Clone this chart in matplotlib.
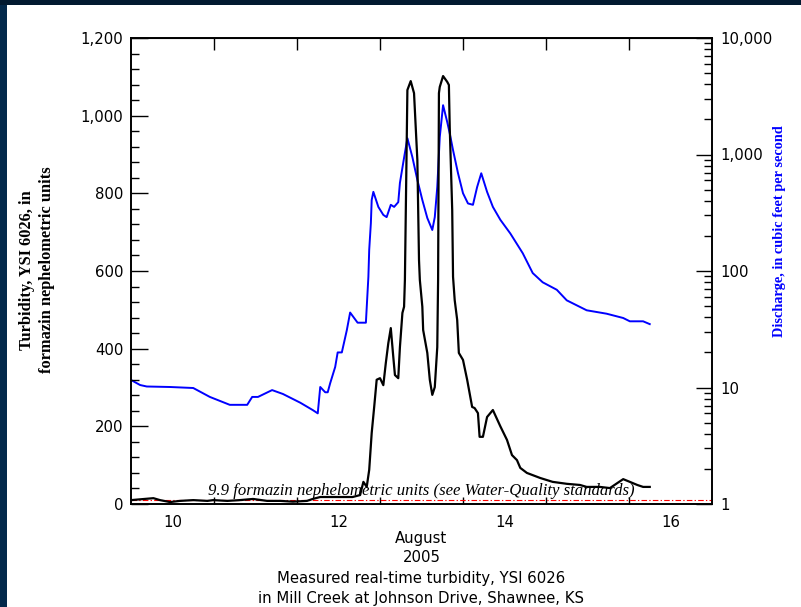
import matplotlib
matplotlib.use('Agg')
import matplotlib.pyplot as plt
from matplotlib.ticker import FixedLocator, FixedFormatter, LogLocator, NullFormatter, MultipleLocator
from matplotlib.patches import Rectangle
import matplotlib.transforms as mtransforms

# ---------------- data ----------------
q_days = [9.50, 9.61, 9.69, 9.97, 10.25, 10.45, 10.69, 10.90, 10.96, 11.03, 11.20, 11.33,
          11.54, 11.69, 11.75, 11.78, 11.84, 11.87, 11.90, 11.96, 11.99, 12.04, 12.10, 12.14,
          12.23, 12.33, 12.36, 12.37, 12.39, 12.40, 12.42, 12.48, 12.54, 12.58, 12.63, 12.67,
          12.72, 12.74, 12.78, 12.83, 12.89, 12.95, 13.01, 13.07, 13.13, 13.16, 13.19, 13.22,
          13.26, 13.31, 13.34, 13.38, 13.44, 13.50, 13.56, 13.62, 13.67, 13.72, 13.79, 13.86,
          13.95, 14.07, 14.22, 14.34, 14.46, 14.63, 14.75, 14.99, 15.23, 15.43, 15.51, 15.67,
          15.75]
discharge = [11.6, 10.5, 10.2, 10.1, 9.9, 8.3, 7.1, 7.1, 8.3, 8.3, 9.5, 8.8,
             7.4, 6.4, 6.0, 10.1, 9.1, 9.1, 10.9, 15, 20, 20, 31, 44,
             36, 36, 89, 152, 258, 407, 478, 355, 303, 290, 370, 355,
             390, 570, 850, 1380, 950, 605, 407, 285, 225, 290, 525, 1410,
             2650, 1900, 1520, 1090, 690, 465, 380, 370, 525, 690, 478, 355,
             275, 210, 142, 96, 80, 69, 56, 46, 43, 39.5, 37, 37,
             35]

t_days = [9.50, 9.77, 9.85, 9.97, 10.09, 10.25, 10.42, 10.49, 10.66, 10.81, 10.97, 11.14,
          11.30, 11.45, 11.62, 11.69, 11.78, 11.93, 12.17, 12.26, 12.30, 12.34, 12.37, 12.40,
          12.43, 12.46, 12.50, 12.54, 12.57, 12.60, 12.63, 12.66, 12.68, 12.72, 12.74, 12.77,
          12.79, 12.80, 12.83, 12.87, 12.91, 12.95, 12.97, 12.98, 13.01, 13.02, 13.07, 13.10,
          13.13, 13.16, 13.19, 13.20, 13.21, 13.22, 13.26, 13.31, 13.33, 13.34, 13.37, 13.38,
          13.40, 13.43, 13.45, 13.50, 13.55, 13.61, 13.64, 13.68, 13.70, 13.74, 13.79, 13.86,
          13.95, 14.03, 14.09, 14.15, 14.19, 14.27, 14.43, 14.58, 14.75, 14.91, 14.99, 15.15,
          15.27, 15.36, 15.43, 15.51, 15.60, 15.67, 15.75]
turbidity = [10, 15, 10, 5, 8, 10, 8, 10, 8, 10, 13, 8,
             8, 6, 8, 13, 18, 18, 18, 23, 57, 44, 88, 183,
             250, 320, 324, 306, 363, 414, 453, 379, 332, 324, 404, 492,
             508, 577, 1066, 1089, 1058, 886, 628, 577, 508, 448, 389, 320,
             281, 301, 404, 577, 1058, 1074, 1102, 1087, 1079, 971, 757, 585,
             525, 474, 389, 371, 320, 250, 247, 234, 173, 173, 224, 242,
             200, 165, 126, 113, 93, 80, 67, 57, 52, 49, 44, 44,
             41, 54, 64, 57, 49, 44, 44]

standard_value = 9.9
standard_label = "9.9 formazin nephelometric units (see Water-Quality standards)"

x_label_days = [10, 12, 14, 16]
x_label_text = ["10", "12", "14", "16"]
x_tick_days = [10.5, 11.5, 12.5, 13.5, 14.5, 15.5]
left_ticks = [0, 200, 400, 600, 800, 1000, 1200]
left_tick_text = ["0", "200", "400", "600", "800", "1,000", "1,200"]
right_ticks = [1, 10, 100, 1000, 10000]
right_tick_text = ["1", "10", "100", "1,000", "10,000"]

# ---------------- figure ----------------
W, H = 801, 607
fig = plt.figure(figsize=(W / 100, H / 100), dpi=100)
fig.patch.set_facecolor('white')
fig.patches.append(Rectangle((0, 0), 7 / W, 1, transform=fig.transFigure,
                             facecolor='#03294b', edgecolor='none', zorder=-10))
fig.patches.append(Rectangle((0, 1 - 5 / H), 1, 5 / H, transform=fig.transFigure,
                             facecolor='#021a30', edgecolor='none', zorder=-10))

ax = fig.add_axes([131 / W, (H - 504) / H, (712 - 131) / W, (504 - 38) / H])
ax2 = ax.twinx()
ax.set_zorder(ax2.get_zorder() + 1)
ax.patch.set_visible(False)

TS = 10.7  # tick / caption font size

# discharge (right, log)
ax2.plot(q_days, discharge, color='#0000ff', lw=1.4)
ax2.set_yscale('log')
ax2.set_ylim(1, 10000)
ax2.yaxis.set_major_locator(FixedLocator(right_ticks))
ax2.yaxis.set_major_formatter(FixedFormatter(right_tick_text))
ax2.yaxis.set_minor_locator(LogLocator(base=10, subs=range(2, 10)))
ax2.yaxis.set_minor_formatter(NullFormatter())
ax2.tick_params(axis='y', which='major', direction='in', length=11.5, width=1.0, pad=6.3,
                labelsize=TS, colors='black')
ax2.tick_params(axis='y', which='minor', direction='in', length=5.8, width=1.0)

# turbidity (left, linear)
ax.plot(t_days, turbidity, color='black', lw=1.6, zorder=3)
ax.axhline(standard_value, color='#ff0000', lw=0.8, ls=(0, (5, 2, 1.2, 2)), zorder=2)
ax.text(0.5, 23, standard_label,
        transform=mtransforms.blended_transform_factory(ax.transAxes, ax.transData),
        ha='center', va='baseline', family='Liberation Serif', style='italic', size=12.1,
        zorder=4)

ax.set_xlim(9.5, 16.5)
ax.set_ylim(0, 1200)
ax.yaxis.set_major_locator(FixedLocator(left_ticks))
ax.yaxis.set_major_formatter(FixedFormatter(left_tick_text))
ax.yaxis.set_minor_locator(MultipleLocator(40))
ax.tick_params(axis='y', which='major', direction='in', length=12, width=1.0, pad=5.6,
               labelsize=TS)
ax.tick_params(axis='y', which='minor', direction='in', length=5.8, width=1.0)

ax.xaxis.set_major_locator(FixedLocator(x_tick_days))
ax.xaxis.set_major_formatter(NullFormatter())
ax.xaxis.set_minor_locator(FixedLocator(x_label_days))
ax.xaxis.set_minor_formatter(FixedFormatter(x_label_text))
ax.tick_params(axis='x', which='major', direction='in', length=5, width=1.0, bottom=True, top=False)
ax.tick_params(axis='x', which='minor', length=0, pad=8.0, labelsize=TS)

top = ax.secondary_xaxis('top')
top.xaxis.set_major_locator(FixedLocator(x_tick_days))
top.xaxis.set_major_formatter(NullFormatter())
top.xaxis.set_minor_locator(FixedLocator([]))
top.tick_params(axis='x', which='major', direction='in', length=8.5, width=1.0)

for a in (ax, ax2):
    for s in a.spines.values():
        s.set_linewidth(1.2)
        s.set_color('black')
for t in ax.get_yticklabels() + ax2.get_yticklabels() + ax.get_xticklabels(minor=True):
    t.set_family('DejaVu Sans')

# axis titles
fig.text(37 / W, 1 - 270 / H, "Turbidity, YSI 6026, in\nformazin nephelometric units",
         rotation=90, ha='center', va='center', family='Liberation Serif', weight='bold',
         size=11.8, linespacing=1.4, multialignment='center')
fig.text(779 / W, 1 - 231 / H, "Discharge, in cubic feet per second",
         rotation=90, ha='center', va='center', family='Liberation Serif', weight='bold',
         size=10.3, color='#0000ff')

xc = (131 + 712) / 2 / W
fig.text(xc, 1 - 543 / H, "August", ha='center', va='baseline', family='DejaVu Sans', size=TS)
fig.text(xc, 1 - 562 / H, "2005", ha='center', va='baseline', family='DejaVu Sans', size=TS)
fig.text(xc, 1 - 583.5 / H, "Measured real-time turbidity, YSI 6026", ha='center',
         va='baseline', family='DejaVu Sans', size=TS)
fig.text(xc, 1 - 602.5 / H, "in Mill Creek at Johnson Drive, Shawnee, KS", ha='center',
         va='baseline', family='DejaVu Sans', size=TS)

fig.savefig('out.png', dpi=100, facecolor='white')
